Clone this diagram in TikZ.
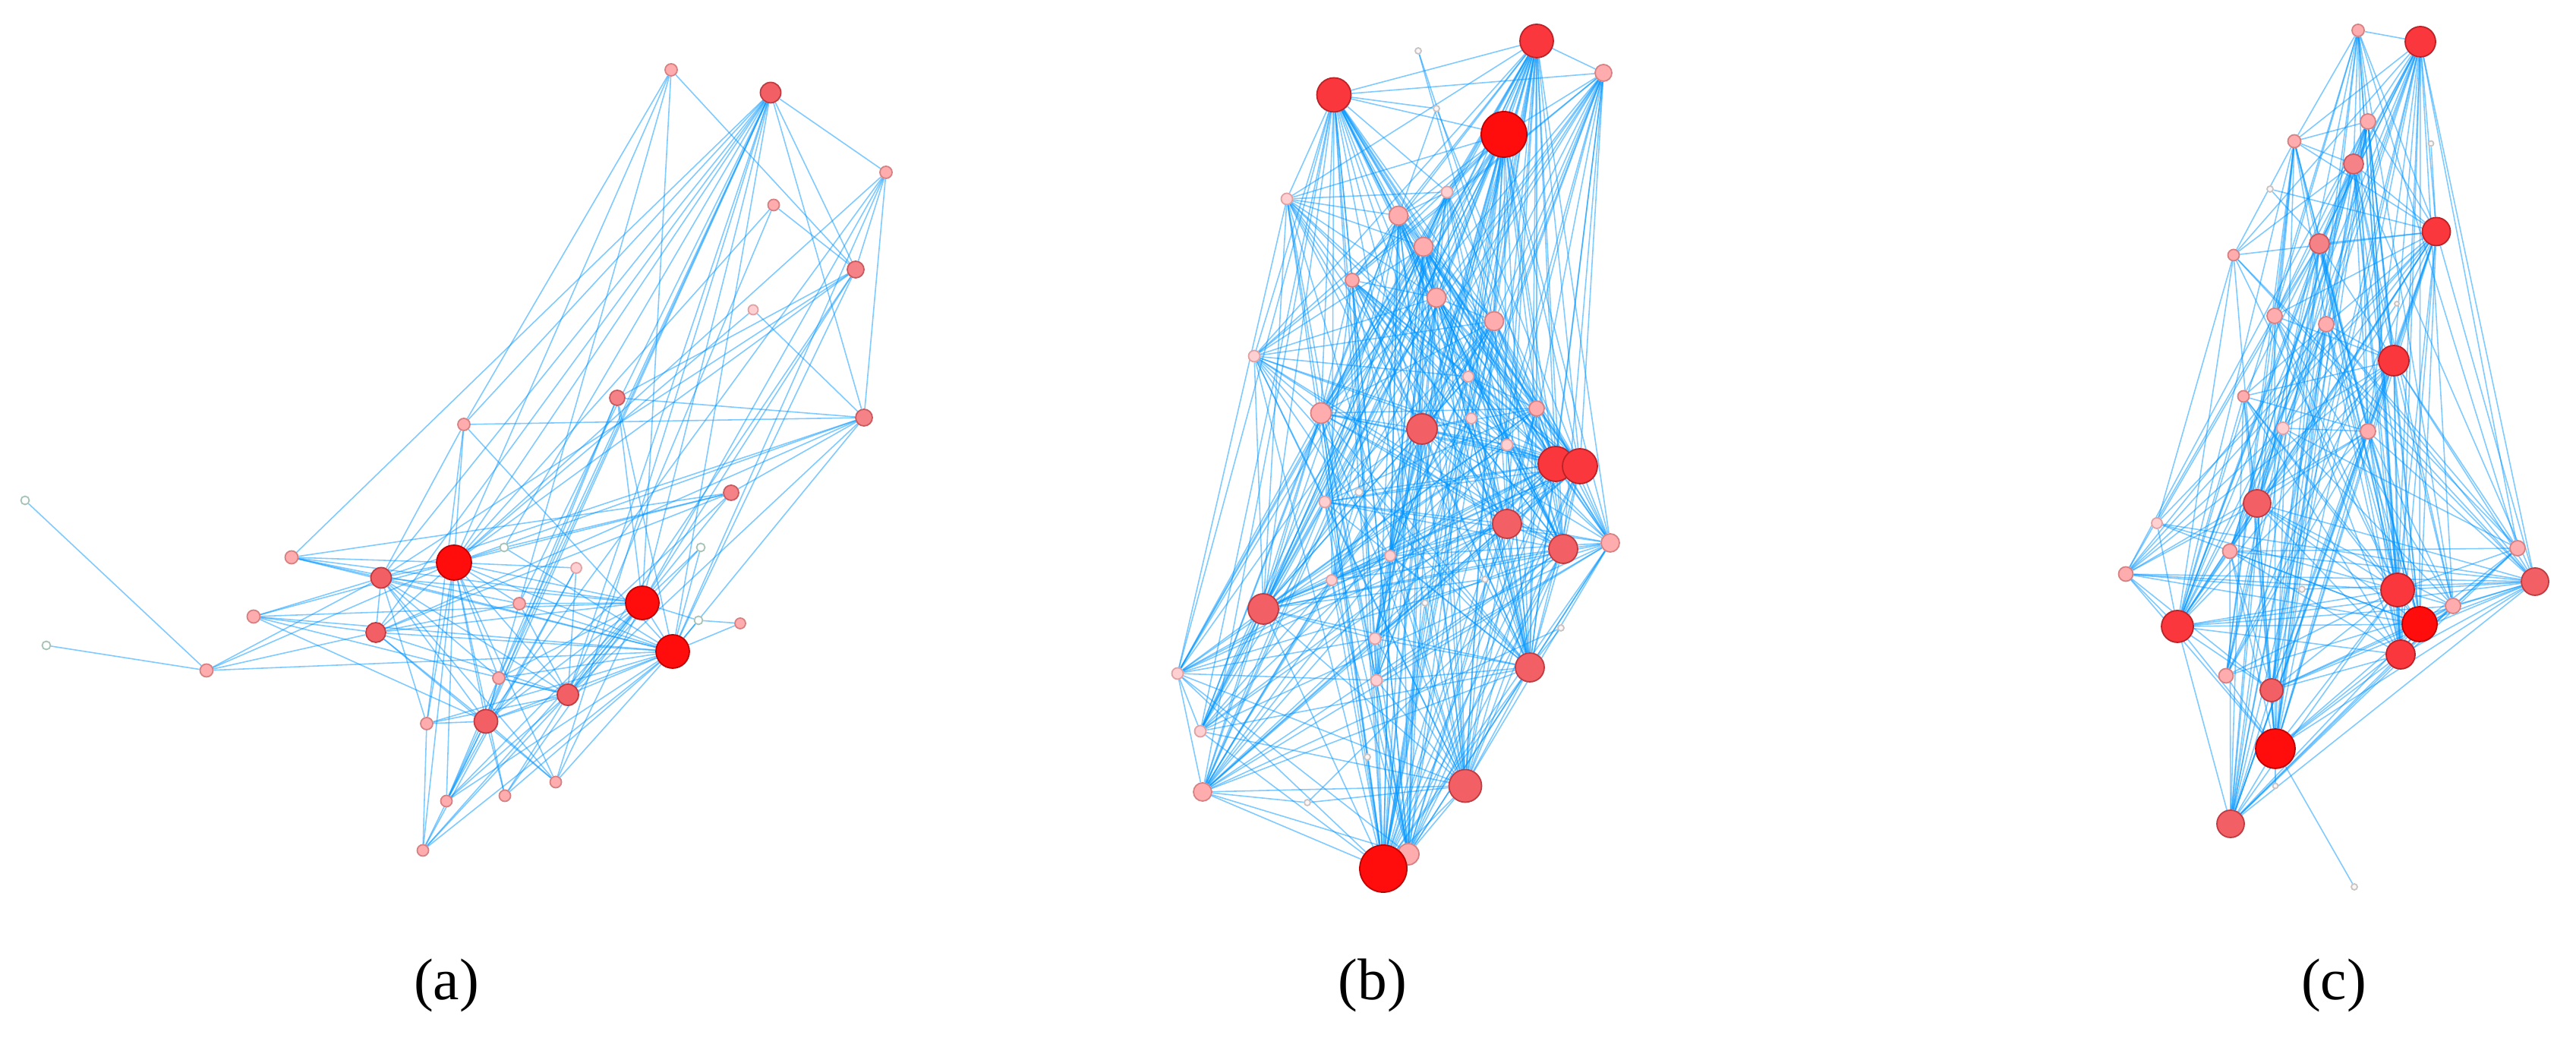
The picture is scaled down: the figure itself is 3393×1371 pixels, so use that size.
\documentclass[tikz,border=0pt]{standalone}
\usepackage{fontspec}
\setmainfont{Liberation Serif}
\usetikzlibrary{backgrounds}
\definecolor{eblue}{RGB}{0,150,255}
\definecolor{cbig}{RGB}{255,12,12}\definecolor{cbigd}{RGB}{190,0,0}
\definecolor{cred}{RGB}{250,55,60}\definecolor{credd}{RGB}{185,35,40}
\definecolor{csal}{RGB}{242,95,100}\definecolor{csald}{RGB}{190,60,65}
\definecolor{csalb}{RGB}{244,130,134}\definecolor{csalbd}{RGB}{200,90,95}
\definecolor{cpink}{RGB}{255,172,174}\definecolor{cpinkd}{RGB}{215,128,130}
\definecolor{clight}{RGB}{255,208,210}\definecolor{clightd}{RGB}{225,160,162}
\definecolor{ctiny}{RGB}{252,246,246}\definecolor{ctinyd}{RGB}{200,195,195}
\definecolor{cwhited}{RGB}{165,195,180}
\tikzset{
  gn/.style={circle,inner sep=0pt,line width=0.5pt},
  nbig/.style={gn,fill=cbig,draw=cbigd},
  nred/.style={gn,fill=cred,draw=credd},
  nsal/.style={gn,fill=csal,draw=csald},
  nsalb/.style={gn,fill=csalb,draw=csalbd},
  npink/.style={gn,fill=cpink,draw=cpinkd},
  nlight/.style={gn,fill=clight,draw=clightd},
  ntiny/.style={gn,fill=ctiny,draw=ctinyd},
  nwhite/.style={gn,fill=white,draw=cwhited},
  lnk/.style={draw=eblue,draw opacity=0.5,line width=0.45pt},
  lbl/.style={font=\fontsize{22}{26}\selectfont,inner sep=0pt}
}
\newcommand\gnode[5]{\node[#1,minimum size=#2cm] (#3) at (#4,#5) {};}
\newcommand\randlinks[4]{%
  \foreach \i in {1,...,#2}{%
    \foreach \j in {1,...,#2}{%
      \ifnum\j>\i
        \pgfmathsetmacro\wwi{#3[\i-1]}%
        \pgfmathsetmacro\wwj{#3[\j-1]}%
        \pgfmathsetmacro\ppp{min(1,#4*\wwi*\wwj)}%
        \pgfmathsetmacro\rrr{rnd}%
        \ifdim\rrr pt<\ppp pt\relax \draw[lnk] (#1\i) -- (#1\j);\fi
      \fi
    }}}
\def\wb{{1,0,0.5,1,0,1,0.45,0.4,0.7,0.75,0.55,0.75,0.65,0.5,0.35,0.5,0.7,0.35,0.9,0.35,1,1,0,0.4,0.85,0.55,0.85,0.4,0,0.4,0,0.85,0,0.4,0.5,0.85,0.4,0.5,0,0.6,0.9,0,0.6,1}}
\def\wc{{0.45,1,0.5,0,0.45,0.65,0,0.95,0.65,0.4,0.5,0.5,0,0.95,0.35,0.4,0.5,0.8,0.3,0.5,0.4,0.45,0,0.7,1,0.45,0.95,1,0.85,0.45,0.75,1,0,0.75,0}}
\begin{document}
\begin{tikzpicture}[x=0.01cm,y=-0.01cm]
\useasboundingbox (0,0) rectangle (3393,1371);
% ---------------- panel (a) ----------------
\gnode{npink}{0.16}{a1}{884}{92}
\gnode{nsal}{0.27}{a2}{1015}{122}
\gnode{npink}{0.16}{a3}{1167}{227}
\gnode{npink}{0.15}{a4}{1019}{270}
\gnode{nsalb}{0.22}{a5}{1127}{355}
\gnode{nlight}{0.13}{a6}{992}{408}
\gnode{nsalb}{0.2}{a7}{813}{524}
\gnode{nsalb}{0.22}{a8}{1138}{550}
\gnode{npink}{0.16}{a9}{611}{559}
\gnode{nsalb}{0.2}{a10}{963}{649}
\gnode{nwhite}{0.11}{a11}{33}{659}
\gnode{nwhite}{0.11}{a12}{664}{721}
\gnode{nwhite}{0.11}{a13}{923}{721}
\gnode{npink}{0.17}{a14}{384}{734}
\gnode{nbig}{0.46}{a15}{598}{741}
\gnode{nlight}{0.14}{a16}{759}{748}
\gnode{nsal}{0.27}{a17}{502}{761}
\gnode{nbig}{0.44}{a18}{846}{794}
\gnode{npink}{0.16}{a19}{684}{795}
\gnode{npink}{0.17}{a20}{334}{812}
\gnode{nwhite}{0.11}{a21}{920}{817}
\gnode{npink}{0.14}{a22}{975}{821}
\gnode{nsal}{0.26}{a23}{495}{833}
\gnode{nwhite}{0.11}{a24}{61}{850}
\gnode{nbig}{0.44}{a25}{886}{858}
\gnode{npink}{0.17}{a26}{272}{883}
\gnode{npink}{0.16}{a27}{657}{893}
\gnode{nsal}{0.28}{a28}{748}{915}
\gnode{nsal}{0.31}{a29}{640}{950}
\gnode{npink}{0.16}{a30}{562}{953}
\gnode{npink}{0.15}{a31}{732}{1030}
\gnode{npink}{0.15}{a32}{665}{1048}
\gnode{npink}{0.15}{a33}{588}{1055}
\gnode{npink}{0.15}{a34}{557}{1120}
% ---------------- panel (b) ----------------
\gnode{nred}{0.44}{b1}{2024}{54}
\gnode{ntiny}{0.08}{b2}{1868}{67}
\gnode{npink}{0.22}{b3}{2112}{96}
\gnode{nred}{0.45}{b4}{1757}{125}
\gnode{ntiny}{0.08}{b5}{1892}{143}
\gnode{nbig}{0.60}{b6}{1981}{177}
\gnode{nlight}{0.15}{b7}{1695}{262}
\gnode{nlight}{0.15}{b8}{1906}{253}
\gnode{npink}{0.25}{b9}{1842}{284}
\gnode{npink}{0.25}{b10}{1875}{325}
\gnode{npink}{0.18}{b11}{1781}{369}
\gnode{npink}{0.25}{b12}{1892}{392}
\gnode{npink}{0.25}{b13}{1968}{423}
\gnode{nlight}{0.15}{b14}{1652}{469}
\gnode{nlight}{0.14}{b15}{1934}{496}
\gnode{npink}{0.2}{b16}{2024}{538}
\gnode{npink}{0.27}{b17}{1740}{544}
\gnode{nlight}{0.14}{b18}{1938}{551}
\gnode{nsal}{0.40}{b19}{1873}{565}
\gnode{nlight}{0.15}{b20}{1985}{586}
\gnode{nred}{0.46}{b21}{2049}{611}
\gnode{nred}{0.46}{b22}{2081}{614}
\gnode{ntiny}{0.1}{b23}{1790}{648}
\gnode{nlight}{0.15}{b24}{1745}{661}
\gnode{nsal}{0.38}{b25}{1985}{690}
\gnode{npink}{0.24}{b26}{2121}{715}
\gnode{nsal}{0.38}{b27}{2059}{723}
\gnode{nlight}{0.14}{b28}{1831}{732}
\gnode{ntiny}{0.08}{b29}{1956}{763}
\gnode{nlight}{0.14}{b30}{1754}{764}
\gnode{ntiny}{0.08}{b31}{1877}{794}
\gnode{nsal}{0.40}{b32}{1664}{802}
\gnode{ntiny}{0.08}{b33}{2056}{827}
\gnode{nlight}{0.15}{b34}{1811}{841}
\gnode{nlight}{0.15}{b35}{1551}{887}
\gnode{nsal}{0.38}{b36}{2015}{879}
\gnode{nlight}{0.15}{b37}{1813}{896}
\gnode{nlight}{0.15}{b38}{1581}{963}
\gnode{ntiny}{0.08}{b39}{1801}{997}
\gnode{npink}{0.24}{b40}{1584}{1043}
\gnode{nsal}{0.43}{b41}{1930}{1035}
\gnode{ntiny}{0.08}{b42}{1722}{1057}
\gnode{npink}{0.28}{b43}{1855}{1125}
\gnode{nbig}{0.62}{b44}{1822}{1144}
% ---------------- panel (c) ----------------
\gnode{npink}{0.16}{c1}{3106}{40}
\gnode{nred}{0.40}{c2}{3188}{55}
\gnode{npink}{0.2}{c3}{3119}{160}
\gnode{ntiny}{0.07}{c4}{3202}{189}
\gnode{npink}{0.17}{c5}{3022}{186}
\gnode{nsalb}{0.26}{c6}{3100}{216}
\gnode{ntiny}{0.08}{c7}{2990}{249}
\gnode{nred}{0.37}{c8}{3209}{305}
\gnode{nsalb}{0.26}{c9}{3055}{321}
\gnode{npink}{0.15}{c10}{2942}{336}
\gnode{npink}{0.2}{c11}{2996}{416}
\gnode{npink}{0.2}{c12}{3064}{427}
\gnode{ntiny}{0.06}{c13}{3157}{400}
\gnode{nred}{0.40}{c14}{3153}{475}
\gnode{npink}{0.15}{c15}{2955}{522}
\gnode{nlight}{0.16}{c16}{3007}{564}
\gnode{npink}{0.2}{c17}{3119}{568}
\gnode{nsal}{0.36}{c18}{2973}{663}
\gnode{nlight}{0.14}{c19}{2841}{689}
\gnode{npink}{0.19}{c20}{2937}{726}
\gnode{npink}{0.2}{c21}{3316}{722}
\gnode{npink}{0.19}{c22}{2800}{756}
\gnode{ntiny}{0.08}{c23}{3032}{776}
\gnode{nsal}{0.36}{c24}{3339}{766}
\gnode{nred}{0.44}{c25}{3158}{777}
\gnode{npink}{0.2}{c26}{3231}{798}
\gnode{nred}{0.42}{c27}{2868}{825}
\gnode{nbig}{0.46}{c28}{3187}{822}
\gnode{nred}{0.38}{c29}{3162}{862}
\gnode{npink}{0.19}{c30}{2932}{890}
\gnode{nsal}{0.30}{c31}{2992}{909}
\gnode{nbig}{0.52}{c32}{2997}{986}
\gnode{ntiny}{0.07}{c33}{2997}{1035}
\gnode{nsal}{0.36}{c34}{2938}{1085}
\gnode{ntiny}{0.08}{c35}{3101}{1168}
% ---------------- labels ----------------
\node[lbl] (la) at (588,1298) {(a)};
\node[lbl] (lb) at (1808,1298) {(b)};
\node[lbl] (lc) at (3074,1298) {(c)};
% ---------------- links ----------------
\begin{pgfonlayer}{background}
\fill[white] (0,0) rectangle (3393,1371);
\foreach \u/\v in {11/26,24/26,26/17,26/15,26/25,26/23,
 1/9,1/5,1/18,1/15,1/29,
 2/3,2/5,2/8,2/15,2/17,2/18,2/25,2/23,2/28,2/29,2/27,2/19,2/12,2/9,2/33,2/31,2/14,
 3/5,3/8,3/29,3/15,3/25,3/18,4/5,4/28,4/15,
 5/15,5/18,5/25,5/28,5/7,5/17,6/8,6/15,
 7/8,7/18,7/25,7/29,7/33,
 8/9,8/10,8/15,8/17,8/25,8/28,8/23,
 9/15,9/25,9/30,9/17,
 10/12,10/15,10/14,10/28,10/29,10/23,
 12/15,12/25,13/25,13/18,13/28,
 14/15,14/17,14/18,14/19,14/25,
 15/16,15/17,15/18,15/19,15/20,15/23,15/25,15/27,15/28,15/29,15/30,15/31,15/32,15/33,15/34,
 16/33,16/34,16/28,
 17/18,17/20,17/23,17/25,17/27,17/28,17/29,17/30,17/31,
 18/19,18/20,18/21,18/23,18/25,18/27,18/28,18/29,18/31,18/32,18/33,18/34,
 19/25,19/28,19/23,20/23,20/25,20/29,20/28,
 21/22,21/25,22/25,
 23/25,23/28,23/29,23/31,
 25/27,25/28,25/29,25/30,25/31,25/32,25/33,25/34,
 27/28,27/29,28/29,28/30,28/33,28/34,28/32,
 29/30,29/31,29/32,29/33,29/34,30/34}
  {\draw[lnk] (a\u) -- (a\v);}
\pgfmathsetseed{4711}
\randlinks{b}{44}{\wb}{1.9}
\foreach \u/\v in {2/13,2/21,5/4,5/9,5/22,23/21,23/36,29/32,29/21,31/44,31/27,33/36,33/40,39/44,39/17,42/40,42/27,42/41}
  {\draw[lnk] (b\u) -- (b\v);}
\pgfmathsetseed{2024}
\randlinks{c}{35}{\wc}{1.5}
\foreach \u/\v in {4/8,7/8,7/9,13/27,23/24,23/22,33/32,35/32}
  {\draw[lnk] (c\u) -- (c\v);}
\end{pgfonlayer}
\end{tikzpicture}
\end{document}
